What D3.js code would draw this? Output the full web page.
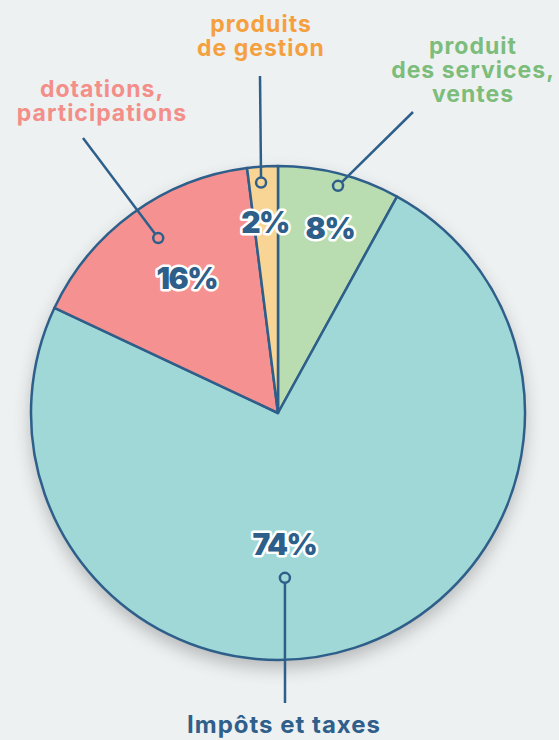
<!DOCTYPE html>
<html>
<head>
<meta charset="utf-8">
<script src="https://cdn.jsdelivr.net/npm/d3@7"></script>
<style>
  html, body { margin: 0; padding: 0; background: #eef1f2; }
  svg { display: block; font-family: "Inter", "Noto Sans", sans-serif; }
</style>
</head>
<body>
<div id="pie-chart"></div>
<script>
const categories = ["produit des services, ventes", "Impôts et taxes", "dotations, participations", "produits de gestion"];
const values = [8, 74, 16, 2];
const labelLines = [
  ["produit", "des services,", "ventes"],
  ["Impôts et taxes"],
  ["dotations,", "participations"],
  ["produits", "de gestion"]
];

(function() {
  const width = 559;
  const height = 740;
  const cx = 278, cy = 413, radius = 247;

  const fills = ["#b9ddb0", "#a0d8d7", "#f59190", "#f8d594"];
  const textColors = ["#7dbd7b", "#2f5f8a", "#f38e89", "#f5a03f"];
  const ink = "#2e5f8a";

  // per-slice layout: angle (deg), dot/label radii, leader end, text anchor
  const layout = [
    { dotA: 14.8, dotR: 235, labA: 15.7, labR: 192, end: [413, 112], text: [473, 54], size: 23 },
    { dotA: 177.6, dotR: 165, labA: 177.2, labR: 131, end: [285, 703], text: [284, 733], size: 24 },
    { dotA: 325.6, dotR: 212, labA: 326, labR: 163, end: [83, 138], text: [102, 97], size: 23 },
    { dotA: 355.8, dotR: 231, labA: 356.1, labR: 191, end: [260, 76], text: [261, 32], size: 23 }
  ];

  const svg = d3.select("#pie-chart")
    .append("svg")
    .attr("width", width)
    .attr("height", height);

  const defs = svg.append("defs");
  const shadow = defs.append("filter").attr("id", "shadow")
    .attr("x", "-20%").attr("y", "-20%").attr("width", "140%").attr("height", "140%");
  shadow.append("feGaussianBlur").attr("in", "SourceAlpha").attr("stdDeviation", 9);
  shadow.append("feOffset").attr("dx", 0).attr("dy", 8).attr("result", "b");
  shadow.append("feComponentTransfer").append("feFuncA").attr("type", "linear").attr("slope", 0.25);
  const merge = shadow.append("feMerge");
  merge.append("feMergeNode");
  merge.append("feMergeNode").attr("in", "SourceGraphic");

  const data = categories.map((c, i) => ({ name: c, value: values[i], i }));

  const pie = d3.pie().sort(null).value(d => d.value);
  const arc = d3.arc().innerRadius(0).outerRadius(radius);
  const arcs = pie(data);

  const g = svg.append("g").attr("transform", `translate(${cx},${cy})`);

  g.append("circle").attr("r", radius).attr("fill", "#a0d8d7").attr("filter", "url(#shadow)");

  g.selectAll("path.slice")
    .data(arcs)
    .join("path")
    .attr("class", "slice")
    .attr("d", arc)
    .attr("fill", d => fills[d.data.i])
    .attr("stroke", ink)
    .attr("stroke-width", 2.5)
    .attr("stroke-linejoin", "round");

  const polar = (a, r) => {
    const t = a * Math.PI / 180;
    return [r * Math.sin(t), -r * Math.cos(t)];
  };

  // leader lines
  arcs.forEach(d => {
    const L = layout[d.data.i];
    const p = polar(L.dotA, L.dotR);
    g.append("line")
      .attr("x1", L.end[0] - cx).attr("y1", L.end[1] - cy)
      .attr("x2", p[0]).attr("y2", p[1])
      .attr("stroke", ink).attr("stroke-width", 2.5);
    g.append("circle")
      .attr("cx", p[0]).attr("cy", p[1]).attr("r", 5)
      .attr("fill", fills[d.data.i])
      .attr("stroke", ink).attr("stroke-width", 2.5);
  });

  // percentages
  g.selectAll("text.pct")
    .data(arcs)
    .join("text")
    .attr("class", "pct")
    .attr("transform", d => {
      const L = layout[d.data.i];
      return `translate(${polar(L.labA, L.labR)})`;
    })
    .attr("text-anchor", "middle")
    .attr("dy", "0.36em")
    .attr("font-size", "30px")
    .attr("font-weight", 900)
    .attr("letter-spacing", "-1.5px")
    .attr("fill", ink)
    .attr("stroke", "#fff")
    .attr("stroke-width", 5)
    .attr("stroke-linejoin", "round")
    .attr("paint-order", "stroke")
    .text(d => d.data.value + "%");

  // category labels
  data.forEach(d => {
    const L = layout[d.i];
    const lines = labelLines[d.i];
    const t = svg.append("text")
      .attr("text-anchor", "middle")
      .attr("font-size", L.size + "px")
      .attr("font-weight", 700)
      .attr("letter-spacing", "1px")
      .attr("fill", textColors[d.i]);
    lines.forEach((s, k) => {
      t.append("tspan")
        .attr("x", L.text[0])
        .attr("y", L.text[1] + k * 24)
        .text(s);
    });
  });
})();
</script>
</body>
</html>
